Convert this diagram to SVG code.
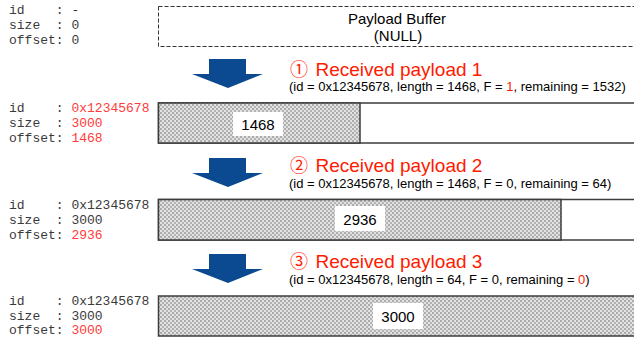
<svg xmlns="http://www.w3.org/2000/svg" width="634" height="342" viewBox="0 0 634 342">
  <defs>
    <!-- fine checkered fill for received bytes -->
    <pattern id="dots" width="4" height="4" patternUnits="userSpaceOnUse">
      <rect width="4" height="4" fill="#e2e2e2"/>
      <rect x="0" y="0" width="2" height="2" fill="#ababab"/>
      <rect x="2" y="2" width="2" height="2" fill="#b3b3b3"/>
    </pattern>
    <path id="down-arrow" d="M17,0 H54 V15 H71 L36,29 L0,15 H17 Z"/>
  </defs>
  <style>
    .mono { font-family: "Liberation Mono", "Courier New", monospace; font-size: 13px; fill: #3a3a3a; }
    .red { fill: #ff3b3b; }
    .title { font-family: "Liberation Sans", Arial, sans-serif; font-size: 19px; fill: #ff1a00; }
    .circ { font-family: "Noto Sans CJK JP", "DejaVu Sans", sans-serif; font-size: 18px; }
    .sub { font-family: "Liberation Sans", Arial, sans-serif; font-size: 13px; fill: #000; }
    .sub .hl { fill: #ff1a00; }
    .label { font-family: "Liberation Sans", Arial, sans-serif; font-size: 15px; fill: #000; text-anchor: middle; }
    .bar { fill: #fff; stroke: #3c3c3c; stroke-width: 1.5; }
    .filled { fill: url(#dots); stroke: #3c3c3c; stroke-width: 1.5; }
    .tag { fill: #fff; }
    .arrow { fill: #0b4a91; }
    .buffer { fill: #fff; stroke: #333; stroke-width: 1; stroke-dasharray: 4 2; }
  </style>

  <!-- state 0: nothing received -->
  <g id="state0">
    <text class="mono" x="9" y="14" xml:space="preserve">id    : -</text>
    <text class="mono" x="9" y="29" xml:space="preserve">size  : 0</text>
    <text class="mono" x="9" y="44" xml:space="preserve">offset: 0</text>
    <rect class="buffer" x="158.5" y="6.5" width="490" height="40"/>
    <text class="label" x="397" y="24">Payload Buffer</text>
    <text class="label" x="398" y="41">(NULL)</text>
  </g>

  <!-- transitions -->
  <g id="connectors">
    <use href="#down-arrow" class="arrow" x="192" y="59"/>
    <use href="#down-arrow" class="arrow" x="192" y="158"/>
    <use href="#down-arrow" class="arrow" x="192" y="254"/>
  </g>

  <!-- step 1 -->
  <g id="step1">
    <text class="title" x="290" y="75.5"><tspan class="circ">①</tspan><tspan x="315.5">Received payload 1</tspan></text>
    <text class="sub" x="289" y="90.5">(id = 0x12345678, length = 1468, F = <tspan class="hl">1</tspan>, remaining = 1532)</text>
  </g>
  <g id="state1">
    <text class="mono" x="9" y="112" xml:space="preserve">id    : <tspan class="red">0x12345678</tspan></text>
    <text class="mono" x="9" y="127" xml:space="preserve">size  : <tspan class="red">3000</tspan></text>
    <text class="mono" x="9" y="142" xml:space="preserve">offset: <tspan class="red">1468</tspan></text>
    <rect class="bar" x="158.5" y="103" width="490" height="40"/>
    <rect class="filled" x="158.5" y="103" width="201.5" height="40"/>
    <rect class="tag" x="233" y="112" width="50" height="24"/>
    <text class="label" x="258" y="129.5">1468</text>
  </g>

  <!-- step 2 -->
  <g id="step2">
    <text class="title" x="290" y="172"><tspan class="circ">②</tspan><tspan x="315.5">Received payload 2</tspan></text>
    <text class="sub" x="289" y="187.5">(id = 0x12345678, length = 1468, F = 0, remaining = 64)</text>
  </g>
  <g id="state2">
    <text class="mono" x="9" y="208.5" xml:space="preserve">id    : 0x12345678</text>
    <text class="mono" x="9" y="223.5" xml:space="preserve">size  : 3000</text>
    <text class="mono" x="9" y="238.5" xml:space="preserve">offset: <tspan class="red">2936</tspan></text>
    <rect class="bar" x="158.5" y="199.5" width="490" height="40.5"/>
    <rect class="filled" x="158.5" y="199.5" width="402.5" height="40.5"/>
    <rect class="tag" x="335" y="206" width="50" height="25"/>
    <text class="label" x="360" y="225">2936</text>
  </g>

  <!-- step 3 -->
  <g id="step3">
    <text class="title" x="290" y="267.5"><tspan class="circ">③</tspan><tspan x="315.5">Received payload 3</tspan></text>
    <text class="sub" x="289" y="284">(id = 0x12345678, length = 64, F = 0, remaining = <tspan class="hl">0</tspan>)</text>
  </g>
  <g id="state3">
    <text class="mono" x="9" y="304.5" xml:space="preserve">id    : 0x12345678</text>
    <text class="mono" x="9" y="319.5" xml:space="preserve">size  : 3000</text>
    <text class="mono" x="9" y="334" xml:space="preserve">offset: <tspan class="red">3000</tspan></text>
    <rect class="filled" x="158.5" y="296" width="490" height="40"/>
    <rect class="tag" x="373" y="303" width="50" height="26"/>
    <text class="label" x="398" y="322">3000</text>
  </g>
</svg>
